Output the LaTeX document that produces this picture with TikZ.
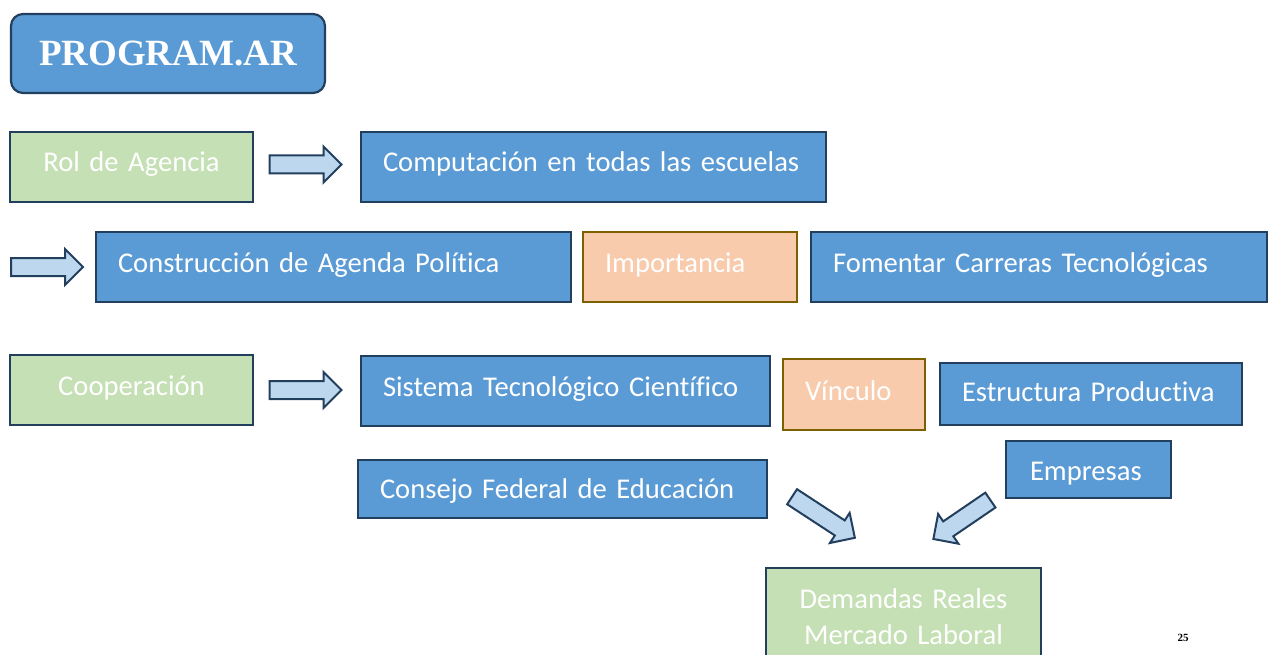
\documentclass[tikz,border=0pt]{standalone}
\usepackage{fontspec}
\setmainfont{Carlito}[Ligatures=NoCommon, WordSpace=0.7]
\newfontfamily\titlefont{Liberation Serif}
\usetikzlibrary{shapes.arrows}
\definecolor{bfill}{HTML}{5B9BD5}
\definecolor{bline}{HTML}{223F5E}
\definecolor{gfill}{HTML}{C5E0B4}
\definecolor{ofill}{HTML}{F8CBAD}
\definecolor{oline}{HTML}{7F6000}
\definecolor{afill}{HTML}{BDD7EE}
\tikzset{
  basebox/.style={rectangle, draw, line width=2.2pt, text=white, inner ysep=0pt,
    font=\fontsize{28.6}{34}\selectfont, text height=20pt, text depth=10pt, outer sep=0pt},
  bluebox/.style={basebox, draw=bline, fill=bfill},
  greenbox/.style={basebox, draw=bline, fill=gfill},
  orangebox/.style={basebox, draw=oline, fill=ofill},
  leftbox/.style 2 args={minimum width=#1pt, minimum height=#2pt, inner xsep=22pt,
    text width=#1pt-44pt, align=left,
    execute at begin node={\leavevmode\hbox\bgroup}, execute at end node={\egroup}},
  midbox/.style 2 args={minimum width=#1pt, minimum height=#2pt, inner xsep=0pt,
    text width=#1pt, align=center},
  blockarrow/.style={single arrow, draw=bline, fill=afill, line width=2pt,
    minimum width=34pt, single arrow head extend=9pt, inner sep=8pt, outer sep=0pt}
}
\begin{document}
\begin{tikzpicture}[x=1pt,y=-1pt]
\useasboundingbox (0,0) rectangle (1268,655);
% title
\node[draw=bline, fill=bfill, line width=2.2pt, rounded corners=12pt, text=white,
  minimum width=314pt, minimum height=79pt, inner sep=0pt,
  font=\titlefont\bfseries\fontsize{37}{40}\selectfont] (title) at (168,53.5) {PROGRAM.AR};
% row 1
\node[greenbox, midbox={243}{70}] (rol) at (131.5,167) {Rol de Agencia};
\node[bluebox, leftbox={465}{70}] (comp) at (593.5,167) {Computación en todas las escuelas};
\node[blockarrow, minimum height=72pt] (a1) at (301,164.5) {};
% row 2
\node[blockarrow, minimum height=72pt] (a2) at (42.5,267) {};
\node[bluebox, leftbox={475}{70}] (constr) at (333.5,267) {Construcción de Agenda Política};
\node[orangebox, leftbox={214}{70}] (imp) at (690,267) {Importancia};
\node[bluebox, leftbox={456}{70}] (fom) at (1039,267) {Fomentar Carreras Tecnológicas};
% row 3
\node[greenbox, midbox={243}{70}] (coop) at (131.5,390) {Cooperación};
\node[blockarrow, minimum height=72pt] (a3) at (301,390) {};
\node[bluebox, leftbox={409}{70}] (sist) at (565.5,391) {Sistema Tecnológico Científico};
\node[orangebox, leftbox={142}{71}, text depth=9pt] (vinc) at (854,394.5) {Vínculo};
\node[bluebox, leftbox={302}{62}, text height=22.4pt, text depth=7pt] (estr) at (1091,394) {Estructura Productiva};
% row 4
\node[bluebox, leftbox={165}{57}, inner xsep=24pt, text width=117pt,
  text height=26pt, text depth=5pt] (emp) at (1088.5,469.5) {Empresas};
\node[bluebox, leftbox={409}{58}, text height=24.6pt, text depth=6pt] (cons) at (562.5,489) {Consejo Federal de Educación};
\node[blockarrow, minimum height=75pt, rotate=-33.2] (a4) at (819.7,514.8) {};
\node[blockarrow, minimum height=69pt, rotate=214.3] (a5) at (965.6,517) {};
% bottom
\node[draw=bline, fill=gfill, line width=2.2pt, text=white, anchor=north,
  minimum width=275pt, inner xsep=0pt, inner ysep=21pt, text width=275pt, align=center,
  font=\fontsize{28.6}{36}\selectfont] (dem) at (903.5,567) {Demandas Reales\\Mercado Laboral};
\node[font=\titlefont\bfseries\fontsize{11}{13}\selectfont, inner sep=0pt] (pg) at (1183,638) {25};
\end{tikzpicture}
\end{document}
